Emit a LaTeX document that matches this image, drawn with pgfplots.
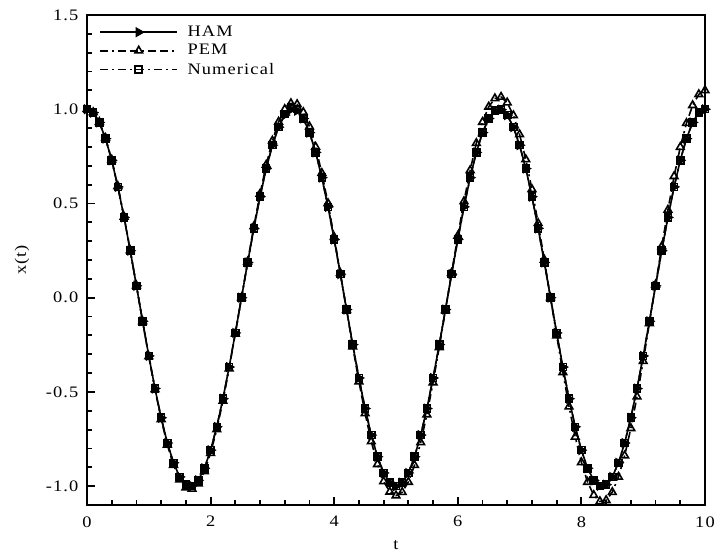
\documentclass[border=0pt]{standalone}
\usepackage{fontspec}
\setmainfont{Liberation Serif}
\newfontfamily\widefont[FakeStretch=1.15, LetterSpace=7]{Liberation Serif}
\usepackage{pgfplots}
\usepackage{pgfplotstable}
\pgfplotsset{compat=1.18}
\pgfplotstableread{
t ham pem num
0.0 1.000 1.000 1.000
0.1 0.982 0.983 0.982
0.2 0.930 0.932 0.930
0.3 0.844 0.847 0.844
0.4 0.729 0.732 0.729
0.5 0.588 0.591 0.588
0.6 0.426 0.429 0.426
0.7 0.249 0.251 0.249
0.8 0.063 0.064 0.063
0.9 -0.125 -0.126 -0.125
1.0 -0.309 -0.312 -0.309
1.1 -0.482 -0.487 -0.482
1.2 -0.637 -0.645 -0.637
1.3 -0.771 -0.781 -0.771
1.4 -0.876 -0.888 -0.876
1.5 -0.951 -0.965 -0.951
1.6 -0.992 -1.008 -0.992
1.7 -0.998 -1.015 -0.998
1.8 -0.969 -0.986 -0.969
1.9 -0.905 -0.922 -0.905
2.0 -0.809 -0.825 -0.809
2.1 -0.685 -0.699 -0.685
2.2 -0.536 -0.548 -0.536
2.3 -0.368 -0.376 -0.368
2.4 -0.187 -0.191 -0.187
2.5 0.000 0.000 0.000
2.6 0.187 0.192 0.187
2.7 0.368 0.378 0.368
2.8 0.536 0.551 0.536
2.9 0.685 0.705 0.685
3.0 0.809 0.833 0.809
3.1 0.905 0.933 0.905
3.2 0.969 1.000 0.975
3.3 0.998 1.031 1.010
3.4 0.992 1.026 1.000
3.5 0.951 0.984 0.951
3.6 0.876 0.908 0.876
3.7 0.771 0.800 0.771
3.8 0.637 0.661 0.637
3.9 0.482 0.501 0.482
4.0 0.309 0.321 0.309
4.1 0.125 0.130 0.125
4.2 -0.063 -0.066 -0.063
4.3 -0.249 -0.260 -0.249
4.4 -0.426 -0.445 -0.426
4.5 -0.588 -0.614 -0.588
4.6 -0.729 -0.763 -0.729
4.7 -0.844 -0.884 -0.844
4.8 -0.930 -0.975 -0.930
4.9 -0.982 -1.030 -0.982
5.0 -1.000 -1.050 -1.000
5.1 -0.982 -1.032 -0.982
5.2 -0.930 -0.978 -0.930
5.3 -0.844 -0.889 -0.844
5.4 -0.729 -0.768 -0.729
5.5 -0.588 -0.620 -0.588
5.6 -0.426 -0.450 -0.426
5.7 -0.249 -0.263 -0.249
5.8 -0.063 -0.067 -0.063
5.9 0.125 0.132 0.125
6.0 0.309 0.328 0.309
6.1 0.482 0.511 0.482
6.2 0.637 0.676 0.637
6.3 0.771 0.820 0.771
6.4 0.876 0.932 0.876
6.5 0.951 1.013 0.951
6.6 0.992 1.057 0.992
6.7 0.998 1.065 0.998
6.8 0.969 1.035 0.969
6.9 0.905 0.967 0.905
7.0 0.809 0.866 0.809
7.1 0.685 0.734 0.685
7.2 0.536 0.575 0.536
7.3 0.368 0.395 0.368
7.4 0.187 0.201 0.187
7.5 0.000 0.000 0.000
7.6 -0.187 -0.201 -0.187
7.7 -0.368 -0.396 -0.368
7.8 -0.536 -0.578 -0.536
7.9 -0.685 -0.739 -0.685
8.0 -0.809 -0.874 -0.809
8.1 -0.905 -0.978 -0.905
8.2 -0.969 -1.048 -0.969
8.3 -0.998 -1.081 -0.998
8.4 -0.992 -1.075 -0.992
8.5 -0.951 -1.032 -0.951
8.6 -0.876 -0.951 -0.876
8.7 -0.771 -0.838 -0.771
8.8 -0.637 -0.693 -0.637
8.9 -0.482 -0.525 -0.482
9.0 -0.309 -0.337 -0.309
9.1 -0.125 -0.136 -0.125
9.2 0.063 0.069 0.063
9.3 0.249 0.272 0.249
9.4 0.426 0.466 0.426
9.5 0.588 0.644 0.588
9.6 0.729 0.799 0.729
9.7 0.844 0.926 0.844
9.8 0.930 1.021 0.930
9.9 0.982 1.079 0.982
10.0 1.000 1.100 1.000
}\data
\begin{document}
\begin{tikzpicture}
\begin{axis}[
  scale only axis, width=463.5pt, height=367.5pt,
  xmin=0, xmax=10, ymin=-1.1, ymax=1.5,
  xtick={0,2,4,6,8,10},
  ytick={-1,-0.5,0,0.5,1,1.5},
  minor x tick num=4, minor y tick num=4,
  tick align=inside, xtick pos=bottom, ytick pos=left,
  axis line style={line width=2pt},
  major tick length=6pt, minor tick length=4pt,
  every tick/.style={black, line width=1.4pt},
  /pgf/number format/assume math mode=true,
  yticklabel style={/pgf/number format/.cd, fixed, fixed zerofill, precision=1, /tikz/.cd, xshift=-3pt},
  xticklabel style={yshift=-5pt},
  ticklabel style={font=\widefont\fontsize{12}{14}\selectfont},
  xlabel={t}, ylabel={x(t)},
  label style={font=\widefont\fontsize{12}{14}\selectfont},
  xlabel style={at={(axis description cs:0.5,-0.0816)}, anchor=center},
  ylabel style={at={(axis description cs:-0.1052,0.5)}, anchor=center},
  legend style={at={(axis description cs:0,1)}, anchor=north west, xshift=9pt, yshift=-6pt,
    draw=none, fill=none, row sep=0.5pt, inner sep=0pt,
    font=\widefont\fontsize{12}{14}\selectfont,
    /tikz/every odd column/.append style={column sep=5pt}},
  legend cell align=left,
  legend image code/.code={\draw[mark repeat=2,mark phase=2,#1] plot coordinates {(0pt,0pt) (29pt,0pt) (58pt,0pt)};},
]
\coordinate (SW) at (rel axis cs:0,0);
\coordinate (NE) at (rel axis cs:1,1);
\addplot[black, line width=1.2pt, mark=triangle*, mark size=3.3pt, mark options={solid, rotate=-90}] table[x=t, y=ham] {\data};
\addlegendentry{HAM}
\addplot[black, line width=1.2pt, dash pattern=on 6pt off 3pt on 1.5pt off 3pt on 6pt off 3pt, mark=triangle, mark size=3.3pt, mark options={solid, fill=white, line width=1.2pt}] table[x=t, y=pem] {\data};
\addlegendentry{PEM}
\addplot[black, line width=1.2pt, dash pattern=on 6pt off 3pt on 1.5pt off 3pt, mark=square, mark size=2.6pt, mark options={solid, fill=white, line width=1.2pt}] table[x=t, y=num] {\data};
\addlegendentry{Numerical}
\end{axis}
\pgfresetboundingbox
\path[use as bounding box] ([xshift=-65.25pt,yshift=-39pt]SW) rectangle ([xshift=6.75pt,yshift=11.25pt]NE);
\end{tikzpicture}
\end{document}
